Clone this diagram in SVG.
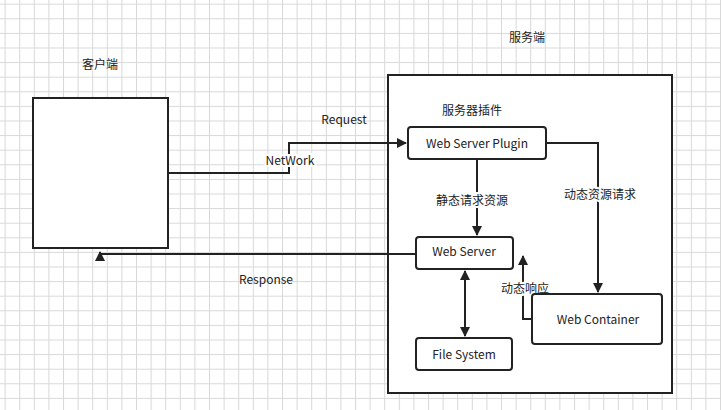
<svg xmlns="http://www.w3.org/2000/svg" width="721" height="410" viewBox="0 0 721 410">
<style>
.b{fill:#fff;stroke:#222;stroke-width:2}
.c{fill:none;stroke:#222;stroke-width:2}
text{font-family:"Noto Sans CJK SC","Noto Sans",sans-serif;font-size:12px;fill:#222;text-anchor:middle}
.lb{paint-order:stroke;stroke:#fff;stroke-width:4}
</style>
<defs>
<pattern id="g" x="4.6" y="3.7" width="14.6" height="14.6" patternUnits="userSpaceOnUse">
<path d="M0 0.5H14.6M0.5 0V14.6" fill="none" stroke="#d8d8d8" stroke-width="1"/>
</pattern>
<marker id="a" viewBox="0 0 10 10" refX="9" refY="5" markerWidth="5" markerHeight="5" orient="auto-start-reverse"><path d="M0 0L10 5L0 10z" fill="#222"/></marker>
</defs>
<rect width="721" height="410" fill="#fff"/>
<rect width="721" height="410" fill="url(#g)"/>
<text x="100" y="69">客户端</text>
<text x="527" y="42">服务端</text>
<g id="client"><rect class="b" x="33" y="98" width="135" height="150"/></g>
<g id="server"><rect class="b" x="388" y="75" width="284" height="318"/></g>
<text x="472" y="115">服务器插件</text>
<g id="connectors">
<path class="c" d="M168 173H289V143H406" marker-end="url(#a)"/>
<path class="c" d="M416 254H100V252" marker-end="url(#a)"/>
<path class="c" d="M546 143H598V292" marker-end="url(#a)"/>
<path class="c" d="M477 159V235" marker-end="url(#a)"/>
<path class="c" d="M532 319H523V256" marker-end="url(#a)"/>
<path class="c" d="M465 271V336" marker-start="url(#a)" marker-end="url(#a)"/>
</g>
<text x="344" y="124">Request</text>
<text class="lb" x="290" y="165">NetWork</text>
<text x="266" y="284">Response</text>
<text class="lb" x="472" y="205">静态请求资源</text>
<text class="lb" x="600" y="199">动态资源请求</text>
<text class="lb" x="525" y="293">动态响应</text>
<g id="plugin"><rect class="b" x="408" y="127" width="138" height="32" rx="3"/><text x="477" y="148">Web Server Plugin</text></g>
<g id="webserver"><rect class="b" x="416" y="237" width="97" height="32" rx="3"/><text x="464" y="256">Web Server</text></g>
<g id="container"><rect class="b" x="532" y="294" width="130" height="50" rx="3"/><text x="598" y="324">Web Container</text></g>
<g id="fs"><rect class="b" x="416" y="338" width="96" height="32" rx="3"/><text x="464" y="359">File System</text></g>
</svg>
